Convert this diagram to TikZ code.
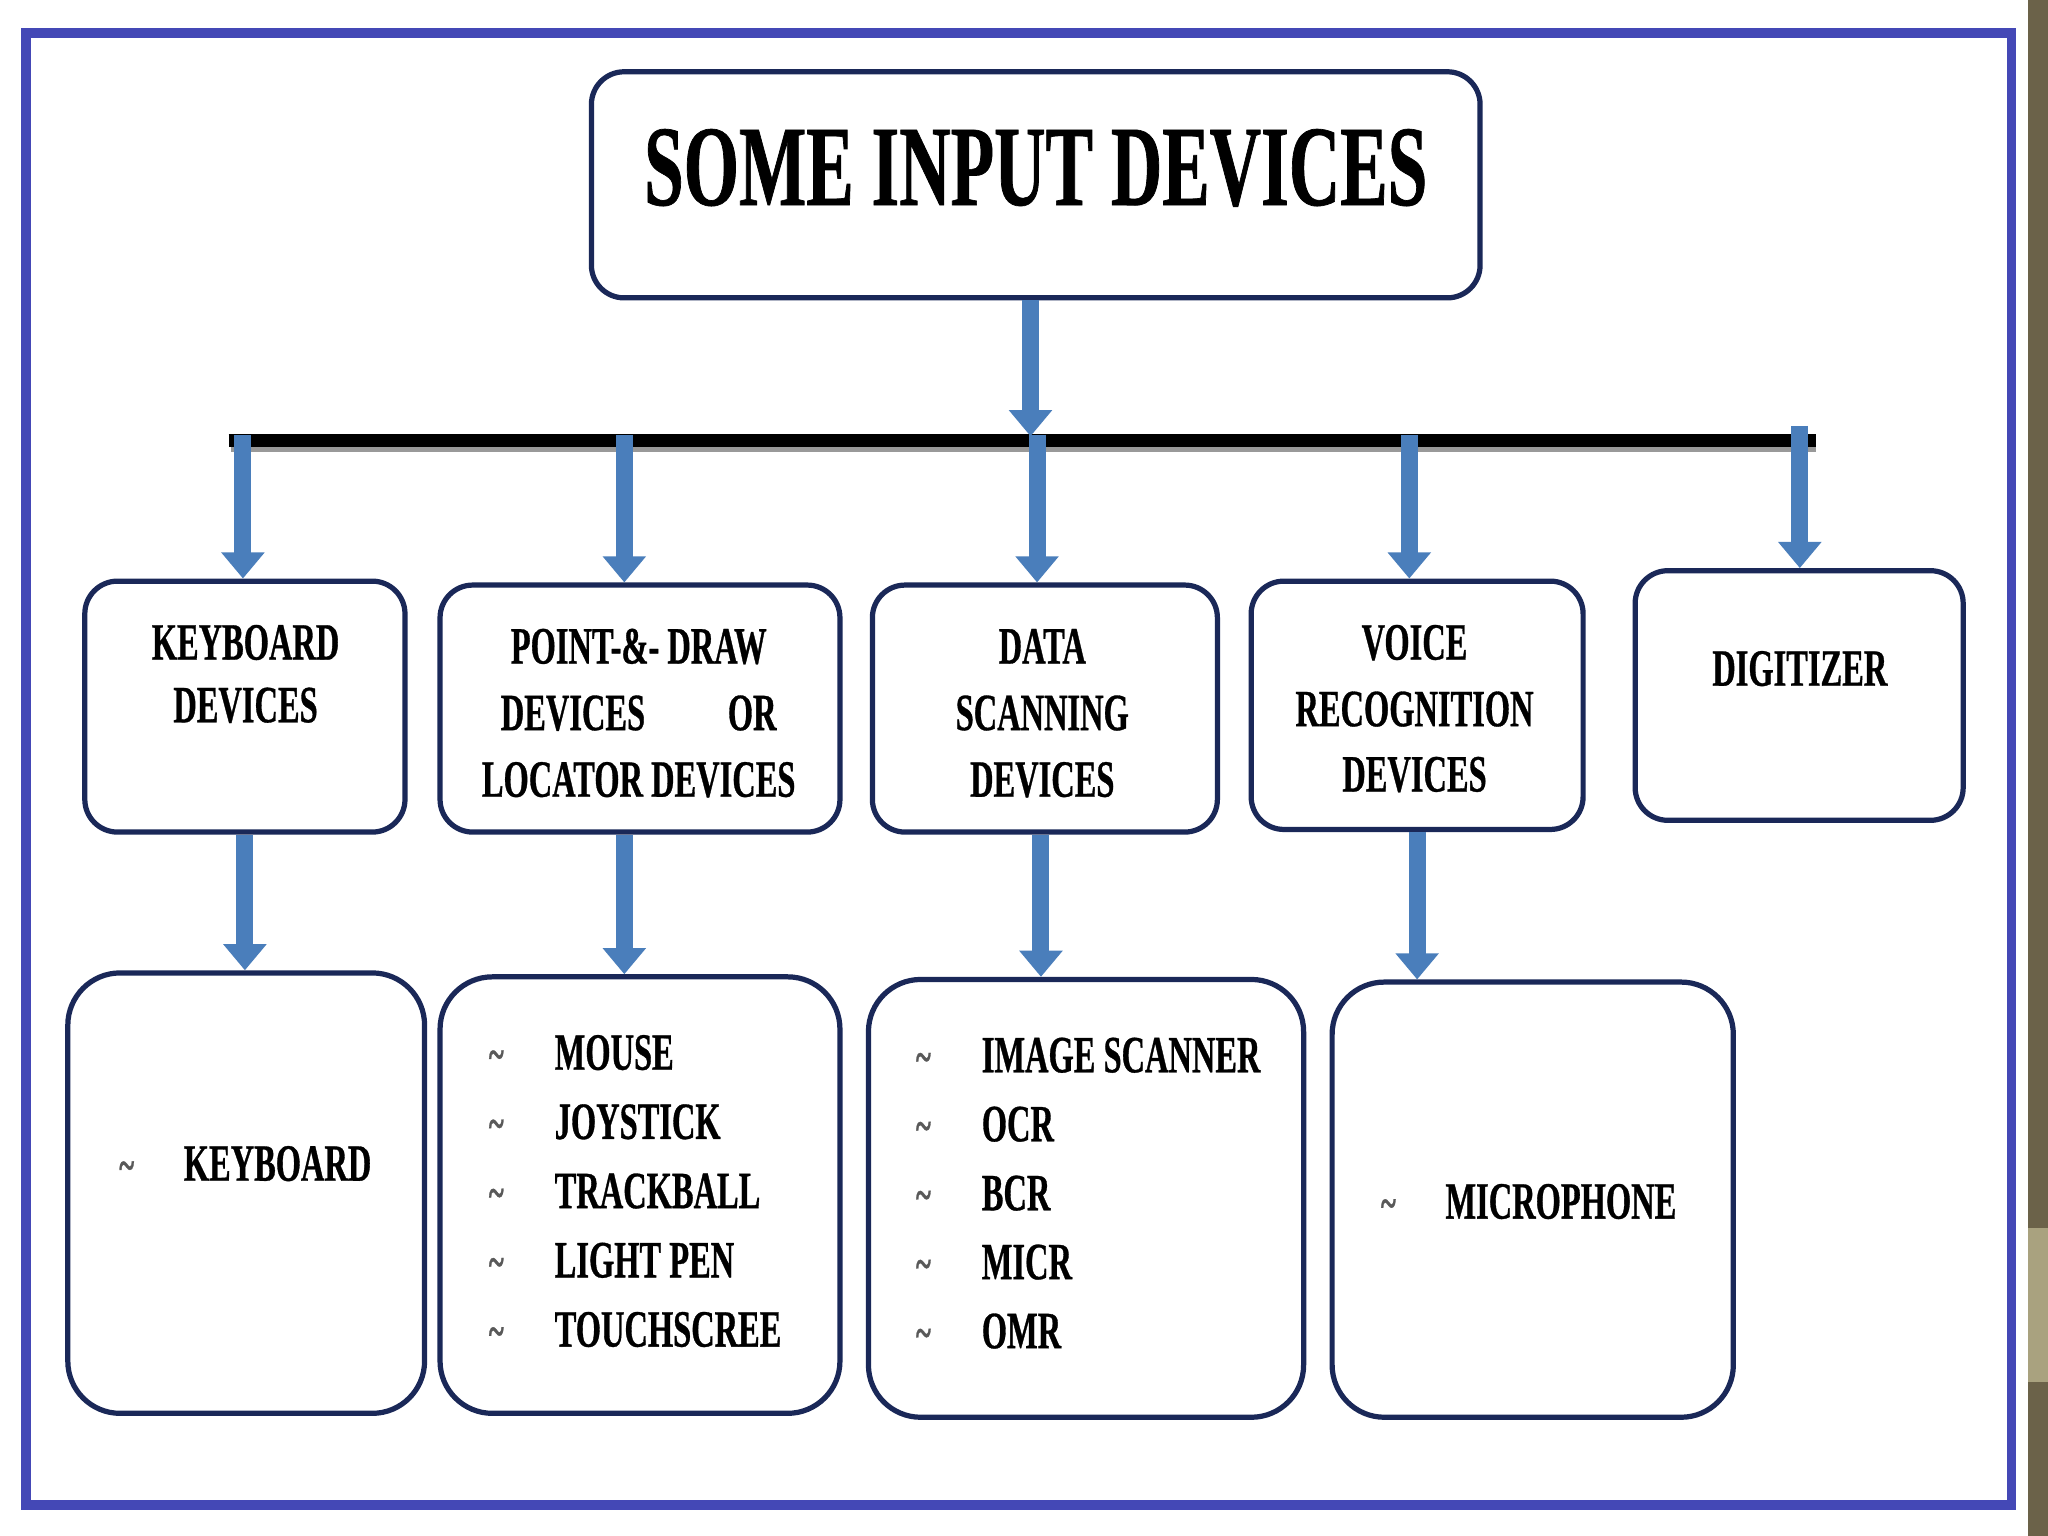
\documentclass[tikz,border=0pt]{standalone}
\usepackage{fontspec}
\setmainfont{Liberation Serif}[FakeStretch=0.62, BoldFeatures={FakeBold=0.6}]
\usetikzlibrary{arrows.meta}
\definecolor{framecol}{HTML}{4448B6}
\definecolor{boxcol}{HTML}{1A2858}
\definecolor{arrcol}{HTML}{4A7EBB}
\definecolor{stripdark}{HTML}{6B6249}
\definecolor{striplight}{HTML}{A9A27F}
\begin{document}
\begin{tikzpicture}[x=0.01cm,y=-0.01cm,
  box/.style={draw=boxcol, line width=0.04cm, rounded corners=0.25cm, fill=white, inner sep=0pt},
  bigbox/.style={box, rounded corners=0.4cm},
  barrow/.style={draw=arrcol, line width=0.13cm, -{Triangle[width=0.32cm,length=0.2cm]}},
  lbl/.style={font=\bfseries\fontsize{11.4}{13}\selectfont, inner sep=0pt, anchor=base},
  item/.style={lbl, anchor=base west},
  tild/.style={font=\bfseries\fontsize{10}{10}\selectfont, text=black!65, inner sep=0pt, anchor=base},
]
\useasboundingbox (0,0) rectangle (1568,1176);
\fill[white] (0,0) rectangle (1568,1176);
% right strip
\fill[stripdark] (1553,0) rectangle (1568,1176);
\fill[striplight] (1553,940) rectangle (1568,1058);
% frame
\draw[framecol, line width=0.075cm] (20,25) rectangle (1540,1152);

% title
\node[box, minimum width=6.8cm, minimum height=1.73cm] (title) at (793,141.5) {};
\node[font=\bfseries\fontsize{25}{30}\selectfont, inner sep=0pt, anchor=base] (tt) at (793,157) {SOME INPUT DEVICES};

% middle boxes
\node[box, minimum width=2.45cm, minimum height=1.92cm] (kd) at (187.5,541) {};
\node[box, minimum width=3.06cm, minimum height=1.89cm] (pd) at (490,542.5) {};
\node[box, minimum width=2.64cm, minimum height=1.89cm] (ds) at (800,542.5) {};
\node[box, minimum width=2.54cm, minimum height=1.90cm] (vr) at (1085,540) {};
\node[box, minimum width=2.51cm, minimum height=1.91cm] (dg) at (1377.5,532.5) {};

% bottom boxes
\node[bigbox, minimum width=2.73cm, minimum height=3.37cm] (kb) at (188.5,913.5) {};
\node[bigbox, minimum width=3.06cm, minimum height=3.34cm] (pl) at (490,915) {};
\node[bigbox, minimum width=3.33cm, minimum height=3.35cm] (sl) at (831.5,917.5) {};
\node[bigbox, minimum width=3.07cm, minimum height=3.33cm] (ml) at (1173.5,918.5) {};

% bar
\coordinate (barL) at (175,337);
\coordinate (barR) at (1390,337);
\draw[black!40, line width=0.06cm] (177,343) -- (1390,343);
\draw[black, line width=0.1cm] (barL) -- (barR);

% arrows
\coordinate (a1) at (186,333);
\coordinate (a2) at (478,333);
\coordinate (a3) at (794,333);
\coordinate (a4) at (1079,333);
\coordinate (a5) at (1378,326);
\draw[barrow] (title.south -| 789,0) -- (789,334);
\draw[barrow] (a1) -- (a1 |- kd.north);
\draw[barrow] (a2) -- (a2 |- pd.north);
\draw[barrow] (a3) -- (a3 |- ds.north);
\draw[barrow] (a4) -- (a4 |- vr.north);
\draw[barrow] (a5) -- (a5 |- dg.north);
\draw[barrow] (kd.south) -- (kd.south |- kb.north);
\draw[barrow] (pd.south -| a2) -- (a2 |- pl.north);
\draw[barrow] (ds.south -| 797,0) -- (797,0 |- sl.north);
\draw[barrow] (vr.south) -- (vr.south |- ml.north);

% middle labels
\node[lbl] (kd1) at (188,505) {KEYBOARD};
\node[lbl] (kd2) at (188,553) {DEVICES};
\node[lbl] (pd1) at (489,508) {POINT-\&- DRAW};
\node[lbl] (pd2) at (489,559) {\makebox[2.11cm]{DEVICES\hfill OR}};
\node[lbl] (pd3) at (489,610) {LOCATOR DEVICES};
\node[lbl] (ds1) at (798,508) {DATA};
\node[lbl] (ds2) at (798,559) {SCANNING};
\node[lbl] (ds3) at (798,610) {DEVICES};
\node[lbl] (vr1) at (1083,505) {VOICE};
\node[lbl] (vr2) at (1083,556) {RECOGNITION};
\node[lbl] (vr3) at (1083,606) {DEVICES};
\node[lbl] (dg1) at (1378,525) {DIGITIZER};

% bottom lists
\node[tild] (kbt) at (97,904) {\textasciitilde};
\node[item] (kb1) at (140,904) {KEYBOARD};
\foreach \t [count=\i] in {MOUSE,JOYSTICK,TRACKBALL,LIGHT PEN,TOUCHSCREE}{
  \node[tild] (plt\i) at (380,{819+(\i-1)*53}) {\textasciitilde};
  \node[item] (pl\i) at (424,{819+(\i-1)*53}) {\t};
}
\foreach \t [count=\i] in {IMAGE SCANNER,OCR,BCR,MICR,OMR}{
  \node[tild] (slt\i) at (707,{821+(\i-1)*52.8}) {\textasciitilde};
  \node[item] (sl\i) at (751,{821+(\i-1)*52.8}) {\t};
}
\node[tild] (mlt) at (1063,933) {\textasciitilde};
\node[item] (ml1) at (1106,933) {MICROPHONE};
\end{tikzpicture}
\end{document}
